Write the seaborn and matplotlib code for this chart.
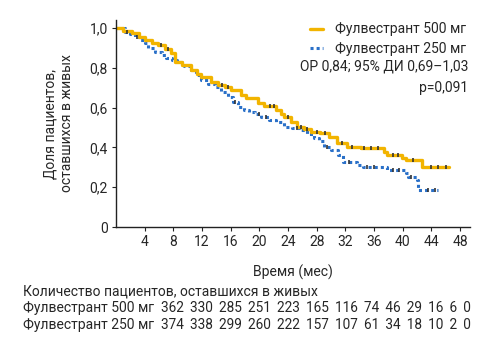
import numpy as np
import pandas as pd
import matplotlib
matplotlib.use("Agg")
import matplotlib.pyplot as plt
from matplotlib.lines import Line2D
import seaborn as sns

# Kaplan-Meier steps (time in months, survival fraction)
t500 = [0, 1.0, 2.2, 3.2, 4.0, 5.0, 5.9, 6.8, 7.7, 8.2, 9.2, 10.5, 11.3, 11.9, 13.3, 14.2,
        15.2, 16.1, 17.5, 18.2, 18.9, 19.8, 20.7, 22.3, 23.0, 23.5, 24.4, 25.3, 26.2, 27.2,
        28.5, 29.7, 30.9, 32.3, 34.2, 37.4, 37.8, 39.9, 40.5, 42.7, 46.5]
s500 = [1.0, 0.985, 0.973, 0.955, 0.94, 0.925, 0.915, 0.895, 0.873, 0.83, 0.815, 0.79, 0.77,
        0.755, 0.73, 0.716, 0.705, 0.688, 0.663, 0.65, 0.647, 0.625, 0.608, 0.588, 0.57, 0.554,
        0.53, 0.504, 0.49, 0.479, 0.472, 0.452, 0.42, 0.404, 0.395, 0.378, 0.362, 0.345, 0.337,
        0.303, 0.303]

t250 = [0, 1.2, 2.0, 2.65, 3.4, 4.0, 4.5, 5.4, 6.4, 7.0, 7.75, 8.5, 9.5, 10.5, 11.2, 11.9,
        12.8, 13.8, 14.6, 15.6, 16.3, 17.0, 17.8, 18.6, 19.4, 20.3, 21.3, 22.3, 23.5, 24.6,
        25.8, 26.7, 27.6, 28.3, 29.0, 30.0, 31.0, 31.7, 33.6, 34.5, 37.8, 40.4, 40.8, 42.0,
        42.2, 45.0]
s250 = [1.0, 0.98, 0.97, 0.956, 0.94, 0.925, 0.90, 0.88, 0.864, 0.85, 0.839, 0.83, 0.81, 0.79,
        0.765, 0.739, 0.72, 0.705, 0.68, 0.655, 0.63, 0.605, 0.59, 0.58, 0.57, 0.554, 0.54,
        0.529, 0.504, 0.495, 0.485, 0.465, 0.446, 0.43, 0.404, 0.385, 0.362, 0.329, 0.312,
        0.303, 0.287, 0.27, 0.253, 0.236, 0.186, 0.186]

# censored observations (times only)
cens500 = [6.3, 7.2, 14.8, 15.6, 21.5, 22.0, 24.0, 25.8, 26.6, 28.0, 29.2, 31.5, 33.0, 34.6,
           35.6, 36.5, 38.6, 39.3, 41.5, 44.0, 45.0, 46.0]
cens250 = [1.6, 3.0, 16.6, 20.0, 21.0, 25.2, 29.5, 32.5, 35.0, 36.0, 38.6, 39.5, 41.2, 43.5,
           44.5]

risk_title = "Количество пациентов, оставшихся в живых"
arm_labels = ["Фулвестрант 500 мг", "Фулвестрант 250 мг"]
risk500 = [362, 330, 285, 251, 223, 165, 116, 74, 46, 29, 16, 6, 0]
risk250 = [374, 338, 299, 260, 222, 157, 107, 61, 34, 18, 10, 2, 0]

hr_text = "ОР 0,84; 95% ДИ 0,69–1,03"
p_text = "p=0,091"

xticks = list(range(4, 49, 4))
yticks = [0, 0.2, 0.4, 0.6, 0.8, 1.0]

c500 = "#F2B400"
c250 = "#2A70C8"

sns.set_style("ticks")
plt.rcParams['font.family'] = ['Roboto', 'DejaVu Sans']

fig = plt.figure(figsize=(5, 3.5), dpi=100)
ax = fig.add_axes([0.232, 0.3514, 0.708, 0.5914])

df500 = pd.DataFrame({"t": t500, "s": s500})
df250 = pd.DataFrame({"t": t250, "s": s250})

sns.lineplot(data=df250, x="t", y="s", ax=ax, color=c250, lw=2.2, ls=(0, (1, 1)),
             drawstyle="steps-post", estimator=None, sort=False)
sns.lineplot(data=df500, x="t", y="s", ax=ax, color=c500, lw=2.4,
             drawstyle="steps-post", estimator=None, sort=False)


def step_at(times, surv, pts):
    idx = np.searchsorted(times, pts, side="right") - 1
    return np.array(surv)[idx]


ax.plot(cens500, step_at(t500, s500, cens500), ls="none", marker="|", ms=3, mew=1.2,
        color="#333333")
ax.plot(cens250, step_at(t250, s250, cens250), ls="none", marker="|", ms=3, mew=1.2,
        color="#333333")

ax.set_xlim(0, 49.4)
ax.set_ylim(0, 1.04)
ax.set_xticks(xticks)
ax.set_xticklabels([str(v) for v in xticks])
ax.set_yticks(yticks)
ax.set_yticklabels([("%.1f" % v).replace(".", ",") if v > 0 else "0" for v in yticks])
ax.tick_params(labelsize=10, length=3, width=0.8, color="#222222", pad=3)
for sp in ["left", "bottom"]:
    ax.spines[sp].set_color("#222222")
    ax.spines[sp].set_linewidth(1.0)
sns.despine(ax=ax)

ax.set_xlabel("Время (мес)", fontsize=10, labelpad=11)
ax.set_ylabel("Доля пациентов,\nоставшихся в живых", fontsize=10, labelpad=11)

handles = [Line2D([0], [0], color=c500, lw=2.4),
           Line2D([0], [0], color=c250, lw=2.2, ls=(0, (1, 1)))]
ax.legend(handles, arm_labels, loc="upper right", bbox_to_anchor=(1.005, 1.015), frameon=False,
          fontsize=10, handlelength=0.9, handletextpad=0.9, labelspacing=0.4,
          borderaxespad=0)
ax.text(0.995, 0.775, hr_text, transform=ax.transAxes, ha="right", va="center", fontsize=10)
ax.text(0.995, 0.672, p_text, transform=ax.transAxes, ha="right", va="center", fontsize=10)

fig.text(0.046, 1 - 291 / 350, risk_title, fontsize=10, va="center")
for i, (lab, row) in enumerate(zip(arm_labels, [risk500, risk250])):
    fig.text(0.046, 1 - (308 + 17 * i) / 350, lab, fontsize=10, va="center")
    fig.text(161 / 500, 1 - (308 + 17 * i) / 350, " \u2009".join(str(v) for v in row),
             fontsize=9.8, va="center")

fig.savefig("out.png", dpi=100, facecolor="white")
